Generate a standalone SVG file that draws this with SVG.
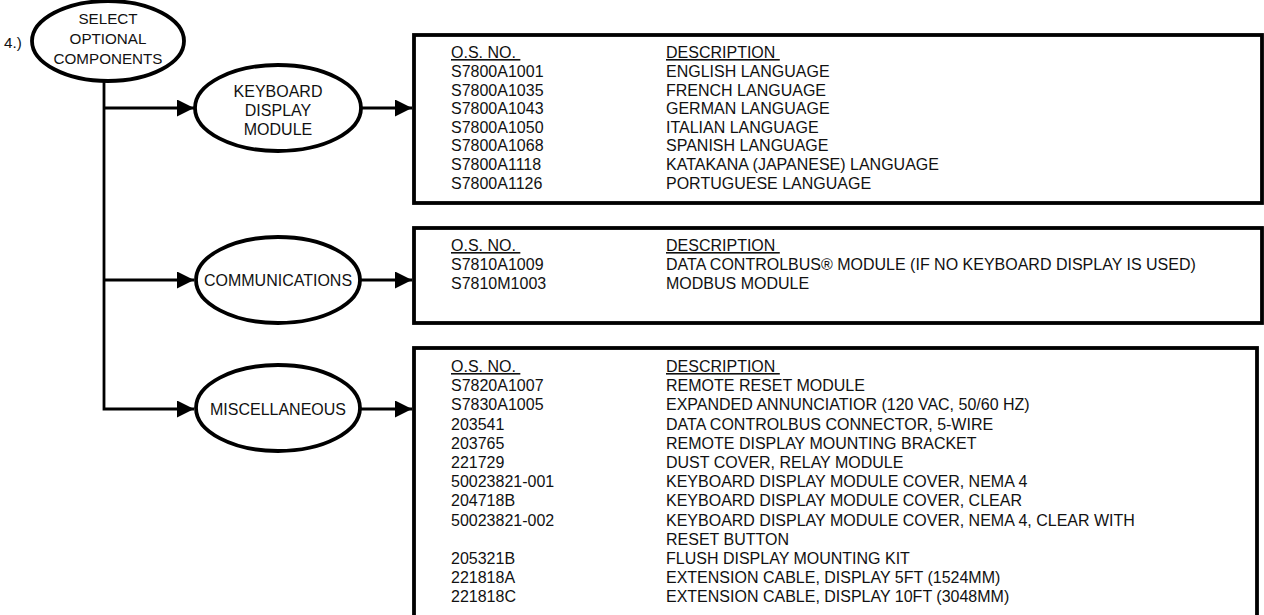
<svg xmlns="http://www.w3.org/2000/svg" width="1264" height="615" viewBox="0 0 1264 615">
<style>
.t{font-family:"Liberation Sans",Arial,Helvetica,sans-serif;font-size:16px;fill:#111}
.e{font-family:"Liberation Sans",Arial,Helvetica,sans-serif;font-size:16px;fill:#111;text-anchor:middle}
.s{font-size:15.2px}
.u{text-decoration:underline}
.node{fill:#fff;stroke:#000;stroke-width:3.8}
.box{fill:#fff;stroke:#000;stroke-width:3.8}
.ln{fill:none;stroke:#000;stroke-width:2.8}
</style>
<defs>
<marker id="ah" markerWidth="18" markerHeight="18" refX="17" refY="8.5" orient="auto" markerUnits="userSpaceOnUse">
<path d="M0,0 L17,8.5 L0,17 Z" fill="#000"/>
</marker>
</defs>
<rect width="1264" height="615" fill="#fff"/>
<g id="connectors">
<path class="ln" d="M104,82 V409 H194" marker-end="url(#ah)"/>
<path class="ln" d="M104,108 H194" marker-end="url(#ah)"/>
<path class="ln" d="M104,280 H194" marker-end="url(#ah)"/>
<path class="ln" d="M362,108 H412" marker-end="url(#ah)"/>
<path class="ln" d="M361,280 H412" marker-end="url(#ah)"/>
<path class="ln" d="M361,409 H412" marker-end="url(#ah)"/>
</g>
<g id="step-label">
<text class="t s" x="4" y="48">4.)</text>
</g>
<g id="select">
<ellipse class="node" cx="108" cy="41" rx="76" ry="40"/>
<text class="e s" x="108" y="24">SELECT</text>
<text class="e s" x="108" y="44">OPTIONAL</text>
<text class="e s" x="108" y="64">COMPONENTS</text>
</g>
<g id="keyboard">
<ellipse class="node" cx="278" cy="108" rx="83" ry="43"/>
<text class="e" x="278" y="97">KEYBOARD</text>
<text class="e" x="278" y="116">DISPLAY</text>
<text class="e" x="278" y="135">MODULE</text>
</g>
<g id="communications">
<ellipse class="node" cx="278" cy="280" rx="82" ry="43"/>
<text class="e" x="278" y="286">COMMUNICATIONS</text>
</g>
<g id="miscellaneous">
<ellipse class="node" cx="278" cy="408" rx="82" ry="43"/>
<text class="e" x="278" y="415">MISCELLANEOUS</text>
</g>
<g id="keyboard-table">
<rect class="box" x="414" y="35" width="848" height="168"/>
<text class="t u" x="451" y="58">O.S. NO.&#160;</text>
<text class="t u" x="666" y="58">DESCRIPTION&#160;</text>
<text class="t" x="451" y="77">S7800A1001</text><text class="t" x="666" y="77">ENGLISH LANGUAGE</text>
<text class="t" x="451" y="95.6">S7800A1035</text><text class="t" x="666" y="95.6">FRENCH LANGUAGE</text>
<text class="t" x="451" y="114.2">S7800A1043</text><text class="t" x="666" y="114.2">GERMAN LANGUAGE</text>
<text class="t" x="451" y="132.8">S7800A1050</text><text class="t" x="666" y="132.8">ITALIAN LANGUAGE</text>
<text class="t" x="451" y="151.4">S7800A1068</text><text class="t" x="666" y="151.4">SPANISH LANGUAGE</text>
<text class="t" x="451" y="170">S7800A1118</text><text class="t" x="666" y="170">KATAKANA (JAPANESE) LANGUAGE</text>
<text class="t" x="451" y="188.6">S7800A1126</text><text class="t" x="666" y="188.6">PORTUGUESE LANGUAGE</text>
</g>
<g id="communications-table">
<rect class="box" x="414" y="228" width="848" height="95"/>
<text class="t u" x="451" y="251">O.S. NO.&#160;</text>
<text class="t u" x="666" y="251">DESCRIPTION&#160;</text>
<text class="t" x="451" y="270">S7810A1009</text><text class="t" x="666" y="270">DATA CONTROLBUS® MODULE (IF NO KEYBOARD DISPLAY IS USED)</text>
<text class="t" x="451" y="289">S7810M1003</text><text class="t" x="666" y="289">MODBUS MODULE</text>
</g>
<g id="miscellaneous-table">
<rect class="box" x="414" y="348" width="843" height="280"/>
<text class="t u" x="451" y="372">O.S. NO.&#160;</text>
<text class="t u" x="666" y="372">DESCRIPTION&#160;</text>
<text class="t" x="451" y="391.2">S7820A1007</text><text class="t" x="666" y="391.2">REMOTE RESET MODULE</text>
<text class="t" x="451" y="410.4">S7830A1005</text><text class="t" x="666" y="410.4">EXPANDED ANNUNCIATIOR (120 VAC, 50/60 HZ)</text>
<text class="t" x="451" y="429.6">203541</text><text class="t" x="666" y="429.6">DATA CONTROLBUS CONNECTOR, 5-WIRE</text>
<text class="t" x="451" y="448.8">203765</text><text class="t" x="666" y="448.8">REMOTE DISPLAY MOUNTING BRACKET</text>
<text class="t" x="451" y="468">221729</text><text class="t" x="666" y="468">DUST COVER, RELAY MODULE</text>
<text class="t" x="451" y="487.2">50023821-001</text><text class="t" x="666" y="487.2">KEYBOARD DISPLAY MODULE COVER, NEMA 4</text>
<text class="t" x="451" y="506.4">204718B</text><text class="t" x="666" y="506.4">KEYBOARD DISPLAY MODULE COVER, CLEAR</text>
<text class="t" x="451" y="525.6">50023821-002</text><text class="t" x="666" y="525.6">KEYBOARD DISPLAY MODULE COVER, NEMA 4, CLEAR WITH</text>
<text class="t" x="666" y="544.8">RESET BUTTON</text>
<text class="t" x="451" y="564">205321B</text><text class="t" x="666" y="564">FLUSH DISPLAY MOUNTING KIT</text>
<text class="t" x="451" y="583.2">221818A</text><text class="t" x="666" y="583.2">EXTENSION CABLE, DISPLAY 5FT (1524MM)</text>
<text class="t" x="451" y="602.4">221818C</text><text class="t" x="666" y="602.4">EXTENSION CABLE, DISPLAY 10FT (3048MM)</text>
</g>
</svg>
